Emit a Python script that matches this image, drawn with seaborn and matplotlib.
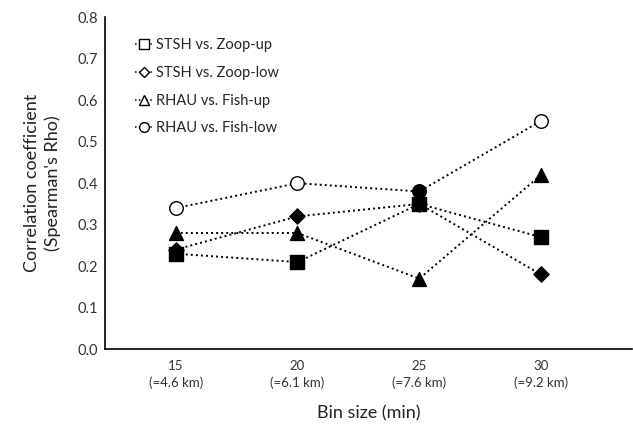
import numpy as np
import pandas as pd
import matplotlib
matplotlib.use("Agg")
import matplotlib.pyplot as plt
from matplotlib.lines import Line2D
import seaborn as sns

# Data
bins = ["15\n(=4.6 km)", "20\n(=6.1 km)", "25\n(=7.6 km)", "30\n(=9.2 km)"]
series_names = ["STSH vs. Zoop-up", "STSH vs. Zoop-low", "RHAU vs. Fish-up", "RHAU vs. Fish-low"]
stsh_zoop_up = [0.23, 0.21, 0.35, 0.27]
stsh_zoop_low = [0.24, 0.32, 0.35, 0.18]
rhau_fish_up = [0.28, 0.28, 0.17, 0.42]
rhau_fish_low = [0.34, 0.40, 0.38, 0.55]
# filled marker = True, open marker = False
stsh_zoop_up_filled = [True, True, True, True]
stsh_zoop_low_filled = [True, True, True, True]
rhau_fish_up_filled = [True, True, True, True]
rhau_fish_low_filled = [False, False, True, False]

markers = {"STSH vs. Zoop-up": "s", "STSH vs. Zoop-low": "D",
           "RHAU vs. Fish-up": "^", "RHAU vs. Fish-low": "o"}
sizes = {"s": 95, "D": 60, "^": 100, "o": 95}

rows = []
for name, vals, fills in zip(series_names,
                             [stsh_zoop_up, stsh_zoop_low, rhau_fish_up, rhau_fish_low],
                             [stsh_zoop_up_filled, stsh_zoop_low_filled, rhau_fish_up_filled, rhau_fish_low_filled]):
    for i, (v, f) in enumerate(zip(vals, fills)):
        rows.append({"series": name, "pos": i, "rho": v, "filled": f})
df = pd.DataFrame(rows)

sns.set_style("white")
plt.rcParams["font.family"] = ["Lato", "DejaVu Sans"]

fig, ax = plt.subplots(figsize=(6.33, 4.29), dpi=100)
fig.subplots_adjust(left=0.166, right=0.999, top=0.96, bottom=0.186)

# dotted connecting lines
for name in series_names:
    sub = df[df["series"] == name]
    sns.lineplot(data=sub, x="pos", y="rho", ax=ax, color="black",
                 linestyle=(0, (1, 1.6)), linewidth=1.4, legend=False, zorder=2)

# markers, filled or open
for name in series_names:
    sub = df[df["series"] == name]
    m = markers[name]
    filled = sub[sub["filled"]]
    hollow = sub[~sub["filled"]]
    if len(filled):
        sns.scatterplot(data=filled, x="pos", y="rho", ax=ax, marker=m, s=sizes[m],
                        color="black", edgecolor="black", linewidth=1, zorder=3, legend=False)
    if len(hollow):
        sns.scatterplot(data=hollow, x="pos", y="rho", ax=ax, marker=m, s=sizes[m],
                        color="white", edgecolor="black", linewidth=1, zorder=3, legend=False)

ax.set_xlim(-0.58, 3.75)
ax.set_ylim(0, 0.8)
ax.set_yticks(np.arange(0, 0.81, 0.1))
ax.set_yticklabels([f"{t:.1f}" for t in np.arange(0, 0.81, 0.1)], fontsize=10.5, color="#333333")
ax.set_xticks(range(len(bins)))
ax.set_xticklabels(bins, fontsize=9.5, color="#333333", linespacing=1.35)
ax.tick_params(axis="x", length=0, pad=8)
ax.tick_params(axis="y", length=0, pad=5)
ax.set_xlabel("Bin size (min)", fontsize=13, color="#222222", labelpad=12)
ax.set_ylabel("Correlation coefficient\n(Spearman's Rho)", fontsize=13, color="#222222",
              labelpad=12, linespacing=1.3)

sns.despine(ax=ax)
for side in ["left", "bottom"]:
    ax.spines[side].set_color("black")
    ax.spines[side].set_linewidth(1.2)

handles = [Line2D([0], [0], color="black", linestyle=(0, (1, 1.5)), linewidth=1.1,
                  marker=markers[n], markersize=7 if markers[n] != "D" else 5.5,
                  markerfacecolor="white", markeredgecolor="black", markeredgewidth=1)
           for n in series_names]
ax.legend(handles, series_names, loc="upper left", bbox_to_anchor=(0.045, 0.955),
          frameon=False, fontsize=10.5, handlelength=1.25, handletextpad=0.2,
          labelspacing=0.95, borderaxespad=0)

fig.savefig("out.png", dpi=100)
